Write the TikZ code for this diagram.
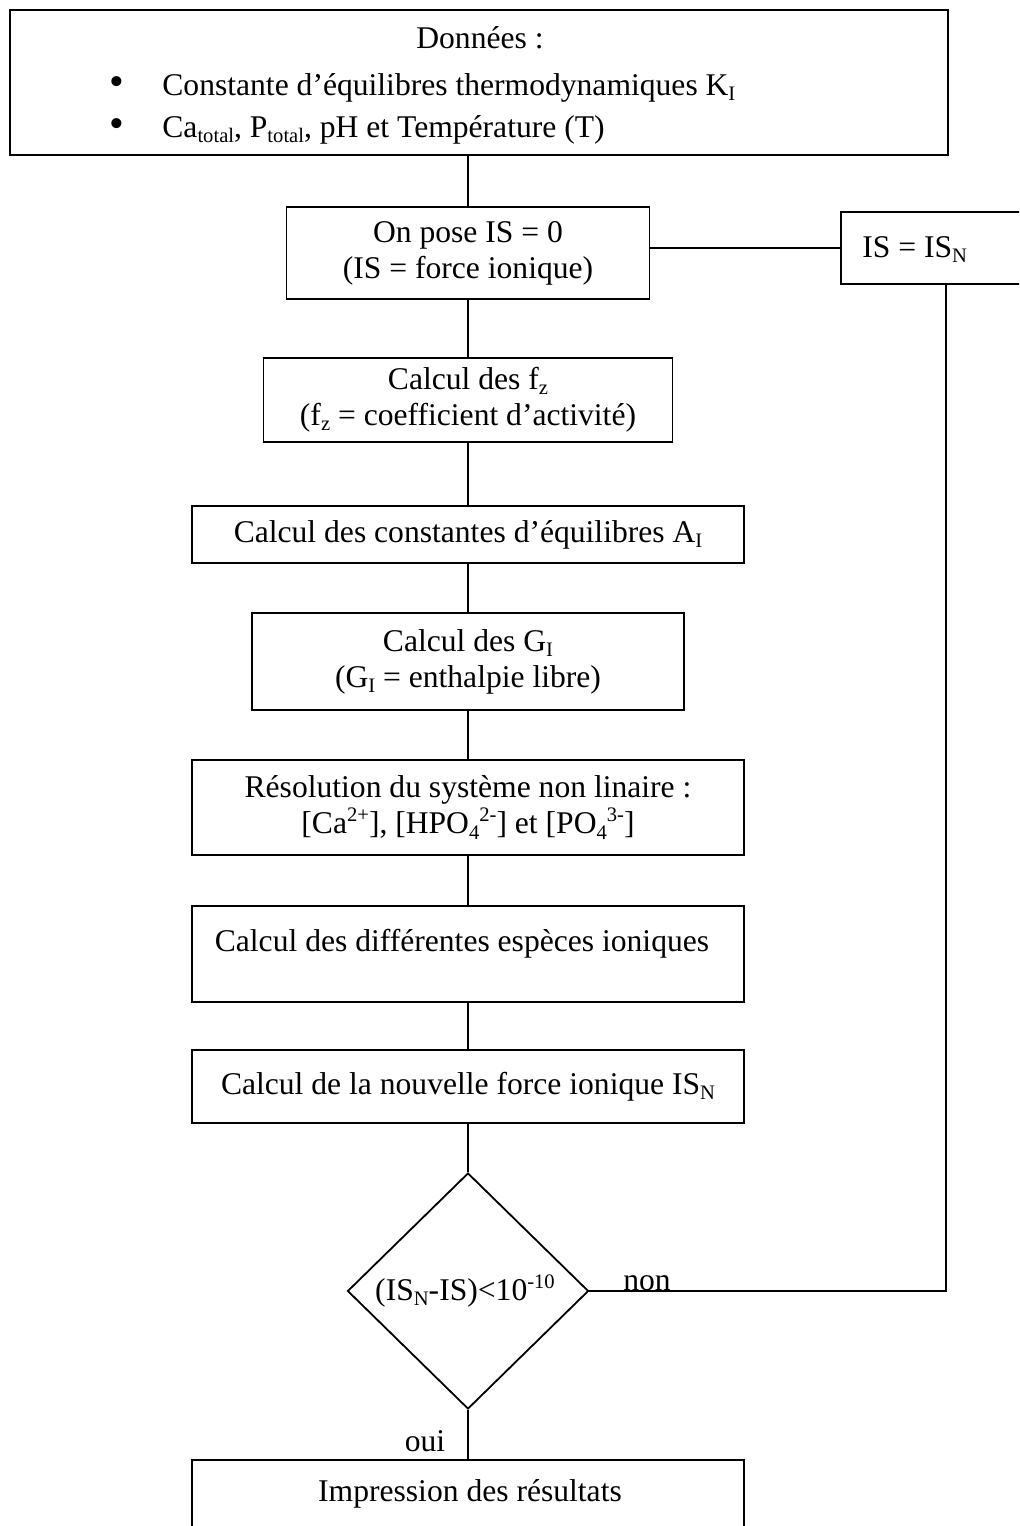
\documentclass[tikz,border=0pt]{standalone}
\usepackage{fontspec}
\setmainfont{Liberation Serif}
\usetikzlibrary{shapes.geometric}
\newcommand\lo[1]{\raisebox{-0.35ex}{\fontsize{10.3}{10.3}\selectfont #1}}
\newcommand\hi[1]{\raisebox{0.85ex}{\fontsize{10.3}{10.3}\selectfont #1}}
\newcommand\bul{{\fontsize{21}{21}\selectfont •}}
\begin{document}
\begin{tikzpicture}[x=0.5pt,y=-0.5pt,
  box/.style={draw=black,line width=0.9pt,inner sep=0pt,rectangle,align=center,font=\fontsize{15.8}{18}\selectfont},
  txt/.style={inner sep=0pt,font=\fontsize{15.8}{18}\selectfont,align=center},
  link/.style={draw=black,line width=0.9pt}]
\useasboundingbox (0,0) rectangle (1019,1526);
\clip (0,0) rectangle (1019,1526);
\fill[white] (0,0) rectangle (1019,1526);
% boxes
\node[box,minimum width=469pt,minimum height=72.5pt] (data) at (479,82.5) {};
\node[txt,anchor=base] (dtitle) at (480,48) {Données :};
\node[txt,anchor=base] (bul1) at (117,95) {\bul};
\node[txt,anchor=base west] (l1) at (162,95) {Constante d’équilibres thermodynamiques K\lo{I}};
\node[txt,anchor=base] (bul2) at (117,137) {\bul};
\node[txt,anchor=base west] (l2) at (162,137) {Ca\lo{total}, P\lo{total}, pH et Température (T)};

\node[box,minimum width=181.5pt,minimum height=46pt] (pose) at (468,253) {On pose IS = 0\\(IS = force ionique)};
\node[box,minimum width=105pt,minimum height=36pt] (isn) at (946,248) {};
\node[txt,anchor=base west] (isnt) at (862,257) {IS = IS\lo{N}};

\node[box,minimum width=204.5pt,minimum height=42pt] (fz) at (468,400) {Calcul des f\lo{z}\\(f\lo{z} = coefficient d’activité)};
\node[box,minimum width=276pt,minimum height=28.5pt] (ai) at (468,534.5) {Calcul des constantes d’équilibres A\lo{I}};
\node[box,minimum width=216pt,minimum height=48.5pt] (gi) at (468,661.5) {Calcul des G\lo{I}\\(G\lo{I} = enthalpie libre)};
\node[box,minimum width=276pt,minimum height=47.5pt] (res) at (468,807.5) {Résolution du système non linaire :\\{}[Ca\hi{2+}], [HPO\lo{4}\hi{2-}] et [PO\lo{4}\hi{3-}]};
\node[box,minimum width=276pt,minimum height=48pt] (esp) at (468,954) {};
\node[txt,anchor=base] (espt) at (462,951) {Calcul des différentes espèces ioniques};
\node[box,minimum width=276pt,minimum height=36.5pt] (nf) at (468,1086.5) {Calcul de la nouvelle force ionique IS\lo{N}};
\node[draw=black,line width=0.9pt,diamond,inner sep=0pt,minimum width=120.5pt,minimum height=118pt] (dia) at (468,1291) {};
\node[txt] (diat) at (465,1291) {(IS\lo{N}-IS)<10\hi{-10}};
\node[box,minimum width=276pt,minimum height=50pt] (imp) at (468,1510) {};
\node[txt,anchor=base] (impt) at (470,1501) {Impression des résultats};
% labels
\node[txt,anchor=base] (non) at (647,1290) {non};
\node[txt,anchor=base] (oui) at (425,1451) {oui};
% connectors
\draw[link] (data.south -| pose.north) -- (pose.north);
\draw[link] (pose.south) -- (fz.north);
\draw[link] (fz.south) -- (ai.north);
\draw[link] (ai.south) -- (gi.north);
\draw[link] (gi.south) -- (res.north);
\draw[link] (res.south) -- (esp.north);
\draw[link] (esp.south) -- (nf.north);
\draw[link] (nf.south) -- (dia.north);
\draw[link] (dia.south) -- (imp.north);
\draw[link] (pose.east |- isn.west) -- (isn.west);
\draw[link] (isn.south) |- (dia.east);
\end{tikzpicture}
\end{document}
